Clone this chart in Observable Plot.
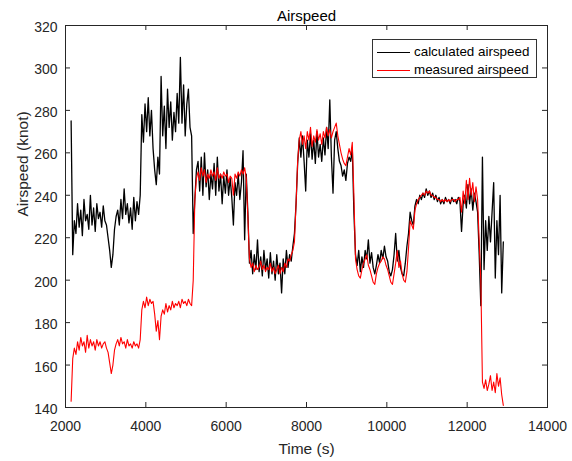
<!DOCTYPE html>
<html>
<head>
<meta charset="utf-8">
<script src="https://cdn.jsdelivr.net/npm/d3@7"></script>
<script src="https://cdn.jsdelivr.net/npm/@observablehq/plot@0.6"></script>
<style>
  html, body { margin: 0; padding: 0; background: #fff; }
  #wrap { position: relative; width: 572px; height: 461px; font-family: "Liberation Sans", Arial, sans-serif; }
  #legend { position: absolute; left: 372px; top: 39px; width: 165px; height: 39px; border: 1px solid #333; background: #fff; box-sizing: border-box; }
  .row { position: absolute; left: 0; height: 18px; font-size: 13.4px; color: #000; }
  .sw { position: absolute; left: 4px; width: 33px; height: 0; border-top: 1px solid; }
  .lbl { position: absolute; left: 41px; top: 0; white-space: nowrap; line-height: 18px; }
</style>
</head>
<body>
<div id="wrap"></div>
<script>
// Sampling grid of the recorded series (seconds)
const timeStart = 2140;
const timeStep = 40;

// Calculated airspeed (knot)
const calculatedAirspeed = [
  275, 212, 228, 222, 236, 225, 233, 221, 238, 228, 231, 224, 240, 226, 234, 223, 236, 229, 232, 225, 235, 228, 226, 220,
  214, 206, 212, 224, 230,
  233, 226, 238, 229, 243, 231, 236, 227, 234, 224, 239, 228, 237, 231, 240,
  278, 265, 283, 270, 286, 268, 280, 262,
  252, 245, 258, 250, 296,
  268, 282, 262, 290, 272, 284, 266, 279, 270, 288, 274, 305, 274, 292, 268, 283, 290, 272, 268,
  222, 238, 252,
  256, 242, 258, 240, 260, 244, 252, 238, 250, 243, 255, 240, 258, 242, 250, 236, 249, 241, 252, 240, 248, 239, 226, 246, 240, 250, 238, 246, 261, 219, 250,
  232, 208, 214, 203, 212, 205, 219, 204, 211, 202, 214, 205, 210, 201, 213, 203, 209, 200, 212, 203, 208, 194, 210, 203, 214, 206, 212, 209, 216, 222, 236, 255, 267,
  258, 268, 256, 242, 266, 258, 269, 257, 266, 255, 270, 258, 264, 256, 267, 259, 272, 262, 285, 258, 241, 266, 270, 262, 256, 254, 249, 252, 247, 255, 258, 256, 262,
  232, 212, 207, 214, 204, 211, 206, 214, 210, 219, 208, 213, 206, 203, 207, 212, 208, 214, 210, 216, 211, 209, 204, 202, 205, 212, 222, 209, 214, 206, 203, 202, 208, 216,
  222, 232, 228, 226, 235, 238, 236, 240, 238, 241, 239, 243, 240, 242, 239, 241, 238, 240, 237, 239, 236, 238, 236, 239, 237, 238, 236, 239, 237, 238, 236, 239, 237, 223, 236, 240, 234, 245, 236, 243, 233, 241, 237, 232,
  212, 188, 258, 205, 228, 214, 230, 218, 232, 246, 201, 228, 212, 240, 194, 218
];

// Measured airspeed (knot)
const measuredAirspeed = [
  143, 163, 168, 165, 171, 167, 173, 169, 171, 166, 174, 168, 172, 169, 171, 167, 172, 169, 171, 168, 170, 171, 168, 166,
  161, 156, 160, 167, 170,
  172, 169, 173, 170, 171, 168, 172, 169, 170, 168, 171, 169, 170, 168, 172,
  186, 190, 187, 192, 188, 191, 189, 190,
  184, 176, 181, 172, 183,
  186, 184, 189, 185, 188, 186, 190, 187, 189, 188, 190, 187, 191, 189, 190, 188, 191, 189, 188,
  200, 238, 248,
  251, 247, 253, 249, 252, 246, 250, 248, 252, 249, 251, 247, 253, 248, 250, 248, 251, 249, 250, 246, 249, 248, 240, 250, 248, 251, 249, 252, 250, 253, 248,
  230, 210, 206, 208, 204, 207, 205, 206, 209, 205, 207, 204, 206, 205, 208, 204, 206, 203, 205, 207, 203, 206, 204, 208, 206, 210, 209, 212, 214, 218, 236, 256, 266,
  270, 264, 268, 262, 270, 266, 272, 263, 268, 265, 271, 266, 269, 264, 270, 267, 272, 268, 271, 267, 270, 272, 274, 268, 264, 260, 257, 255, 254, 258, 262, 259, 265,
  240, 210, 205, 202, 201, 205, 208, 210, 212, 207, 205, 202, 199, 198, 203, 206, 208, 209, 211, 210, 207, 205, 202, 199, 198, 203, 208, 214, 206, 209, 203, 200, 199, 204,
  215, 228, 226, 224, 233, 236, 238, 239, 240, 241, 240, 242, 241, 242, 240, 240, 239, 239, 238, 238, 237, 238, 237, 238, 237, 238, 237, 238, 238, 237, 238, 238, 239, 232, 242, 236, 247, 238, 248, 240, 246, 237, 244, 238,
  218, 200, 152, 149, 153, 148, 151, 155, 148, 152, 147, 156, 150, 154, 146, 141
];

const xTicks = [2000, 4000, 6000, 8000, 10000, 12000, 14000];
const yTicks = [140, 160, 180, 200, 220, 240, 260, 280, 300, 320];
const seriesNames = ["calculated airspeed", "measured airspeed"];
const titleText = "Airspeed";
const xLabel = "Time (s)";
const yLabel = "Airspeed (knot)";

const calcRows = calculatedAirspeed.map((v, i) => ({time: timeStart + i * timeStep, value: v}));
const measRows = measuredAirspeed.map((v, i) => ({time: timeStart + i * timeStep, value: v}));

const W = 572, H = 461, mT = 25, mL = 65, mR = 25, mB = 54;
const plotW = W - mL - mR, plotH = H - mT - mB;
const axisColor = "#262626";
const tickLen = 5;

const chart = Plot.plot({
  width: W, height: H,
  marginTop: mT, marginLeft: mL, marginRight: mR, marginBottom: mB,
  style: {fontFamily: "'Liberation Sans', Arial, sans-serif", fontSize: "14px", color: axisColor, background: "#fff"},
  x: {domain: [2000, 14000]},
  y: {domain: [140, 320]},
  marks: [
    Plot.line(calcRows, {x: "time", y: "value", stroke: "#000", strokeWidth: 1.3}),
    Plot.line(measRows, {x: "time", y: "value", stroke: "#ff0000", strokeWidth: 1.1}),
    Plot.tickX(xTicks, {x: d => d, insetTop: plotH - tickLen, stroke: axisColor}),
    Plot.tickX(xTicks, {x: d => d, insetBottom: plotH - tickLen, stroke: axisColor}),
    Plot.tickY(yTicks, {y: d => d, insetRight: plotW - tickLen, stroke: axisColor}),
    Plot.tickY(yTicks, {y: d => d, insetLeft: plotW - tickLen, stroke: axisColor}),
    Plot.frame({stroke: axisColor, strokeWidth: 1}),
    Plot.axisX({ticks: xTicks, tickSize: 0, tickPadding: 14, tickFormat: d => String(d), label: null, fill: axisColor}),
    Plot.axisY({ticks: yTicks, tickSize: 0, tickPadding: 8, tickFormat: d => String(d), label: null, dy: 2, fill: axisColor}),
    Plot.text([titleText], {text: d => d, frameAnchor: "top", lineAnchor: "bottom", dy: -5, fontSize: 15, fill: "#000"}),
    Plot.text([xLabel], {text: d => d, frameAnchor: "bottom", lineAnchor: "bottom", dy: 46, fontSize: 15.5, fill: axisColor}),
    Plot.text([yLabel], {text: d => d, frameAnchor: "left", lineAnchor: "bottom", rotate: -90, dx: -38, fontSize: 15.5, fill: axisColor})
  ]
});

const wrap = document.getElementById("wrap");
wrap.appendChild(chart);

const legend = document.createElement("div");
legend.id = "legend";
const colors = ["#000", "#ff0000"];
seriesNames.forEach((name, i) => {
  const row = document.createElement("div");
  row.className = "row";
  row.style.top = (3 + i * 18) + "px";
  row.style.width = "100%";
  const sw = document.createElement("div");
  sw.className = "sw";
  sw.style.top = "9px";
  sw.style.borderTopColor = colors[i];
  const lbl = document.createElement("div");
  lbl.className = "lbl";
  lbl.textContent = name;
  row.appendChild(sw);
  row.appendChild(lbl);
  legend.appendChild(row);
});
wrap.appendChild(legend);
</script>
</body>
</html>
